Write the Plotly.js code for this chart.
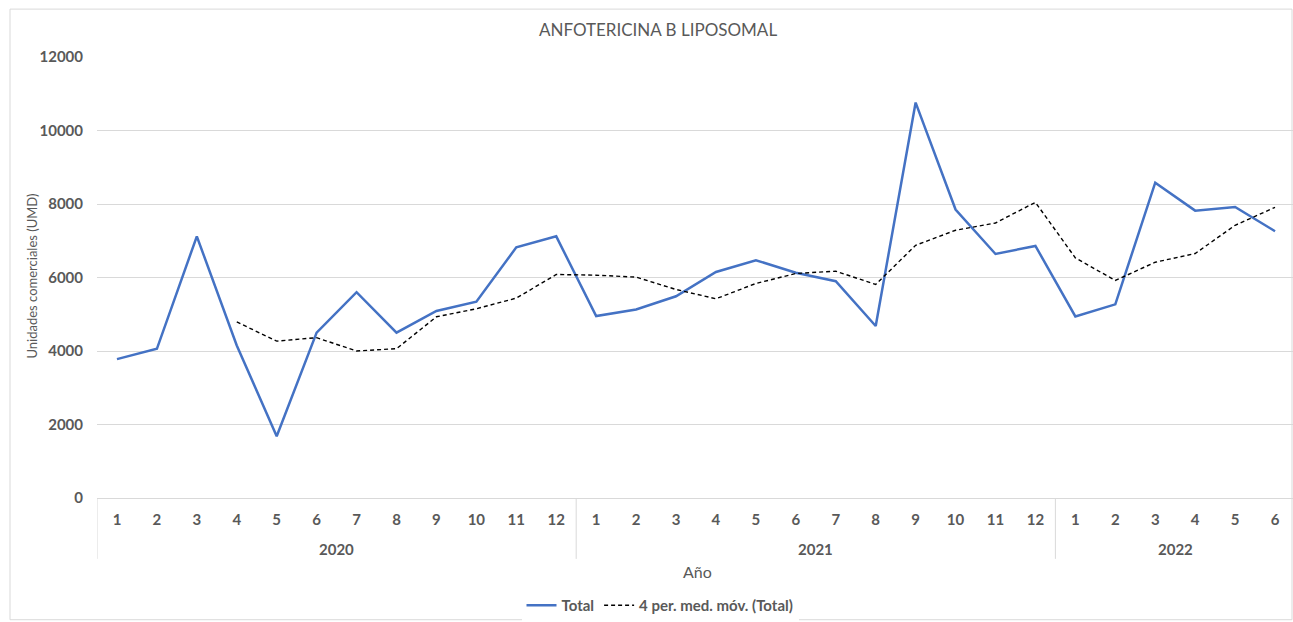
<!DOCTYPE html>
<html>
<head>
<meta charset="utf-8">
<script src="https://cdn.plot.ly/plotly-3.0.1.min.js"></script>
<style>html,body{margin:0;padding:0;background:#fff;}#chart{width:1293px;height:622px;}</style>
</head>
<body>
<div id="chart"></div>
<script>
const years = ['2020','2021','2022'];
const monthsPerYear = [12, 12, 6];
const months = ['1','2','3','4','5','6','7','8','9','10','11','12',
                '1','2','3','4','5','6','7','8','9','10','11','12',
                '1','2','3','4','5','6'];
const total = [3780,4060,7120,4150,1680,4500,5600,4500,5090,5340,6820,7120,
               4950,5130,5490,6150,6470,6130,5900,4680,10760,7850,6640,6860,
               4940,5270,8580,7820,7920,7260];
const movAvg = [null,null,null,4790,4270,4362,4000,4063,4932,5150,5439,6082,
                6063,6010,5674,5421,5837,6109,6172,5810,6878,7285,7484,8045,
                6534,5919,6416,6652,7421,7910];
const yTicks = [0,2000,4000,6000,8000,10000,12000];

const FONT = 'Lato, "Open Sans", sans-serif';
const GREY = '#595959';
const LIGHT = '#d9d9d9';

const idx = months.map((_, i) => i);

const traces = [
  {x: idx, y: total, type:'scatter', mode:'lines', name:'Total',
   line:{color:'#4472C4', width:2.5}},
  {x: idx, y: movAvg, type:'scatter', mode:'lines', name:'4 per. med. móv. (Total)',
   line:{color:'#000000', width:1.4, dash:'4px,3px'}, connectgaps:false}
];

// group boundaries and centres from monthsPerYear
const annotations = [];
const shapes = [];
let start = 0;
const pyPix = v => (499 - v) / 442; // helper: pixel row -> paper y (plot 57..499)
years.forEach((yr, k) => {
  const n = monthsPerYear[k];
  shapes.push({type:'line', xref:'x', yref:'paper', x0:start-0.5, x1:start-0.5,
               y0:0, y1:pyPix(560), line:{color:LIGHT, width:1}});
  annotations.push({text:yr, xref:'x', yref:'paper', x:start + (n-1)/2, y:pyPix(550),
                    xanchor:'center', yanchor:'middle', showarrow:false,
                    font:{family:FONT, size:15, color:GREY, weight:'bold'}});
  start += n;
});
annotations.push({text:'Año', xref:'paper', yref:'paper', x:(697-97)/1196, y:pyPix(573),
                  xanchor:'center', yanchor:'middle', showarrow:false,
                  font:{family:FONT, size:16, color:GREY}});
annotations.push({text:'Unidades comerciales (UMD)', xref:'paper', yref:'paper', x:(32-97)/1196, y:pyPix(277),
                  xanchor:'center', yanchor:'middle', showarrow:false, textangle:-90,
                  font:{family:FONT, size:13, color:GREY}});
shapes.push({type:'rect', xref:'paper', yref:'paper', x0:(10-97)/1196, x1:(1292-97)/1196,
             y0:pyPix(621), y1:pyPix(9), line:{color:LIGHT, width:1}, fillcolor:'rgba(0,0,0,0)', layer:'below'});

const layout = {
  width:1293, height:622,
  margin:{l:97, r:0, t:57, b:123},
  paper_bgcolor:'#fff', plot_bgcolor:'#fff',
  font:{family:FONT, color:GREY},
  title:{text:'ANFOTERICINA B LIPOSOMAL', font:{family:FONT, size:17, color:GREY},
         x:658/1293, xanchor:'center', y:1-30/622, yanchor:'middle', xref:'container', yref:'container'},
  xaxis:{type:'linear', range:[-0.5, 29.45], tickvals: idx, ticktext: months,
         tickfont:{family:FONT, size:15, color:GREY, weight:'bold'},
         showgrid:false, showline:true, linecolor:LIGHT, linewidth:1,
         ticks:'', zeroline:false, ticklabelstandoff:8},
  yaxis:{range:[0,12000], tickvals:yTicks, ticktext:yTicks.map(String),
         tickfont:{family:FONT, size:15, color:GREY, weight:'bold'},
         showgrid:true, gridcolor:LIGHT, gridwidth:1, zeroline:false, showline:false,
         ticks:'', ticklabelstandoff:13},
  showlegend:true,
  legend:{orientation:'h', x:(660-97)/1196, xanchor:'center', y:pyPix(607), yanchor:'middle',
          font:{family:FONT, size:15, color:GREY, weight:'bold'}, itemwidth:30},
  annotations: annotations,
  shapes: shapes
};

Plotly.newPlot('chart', traces, layout, {displayModeBar:false, staticPlot:true});
</script>
</body>
</html>
